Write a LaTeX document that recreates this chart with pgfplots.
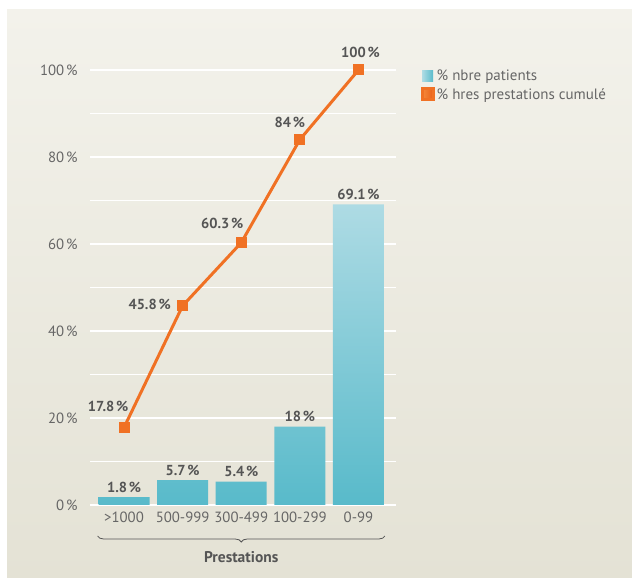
\documentclass[border=0pt]{standalone}
\usepackage{pgfplots}
\pgfplotsset{compat=1.18}
\usepackage{pgfplotstable}
\usepackage{fontspec}
\setmainfont{PT Sans}
\usetikzlibrary{decorations.pathreplacing}
\definecolor{panTop}{HTML}{F3F2EB}
\definecolor{panBot}{HTML}{E4E2D5}
\definecolor{barTop}{HTML}{AEDBE4}
\definecolor{barBot}{HTML}{58BACA}
\definecolor{orangeL}{HTML}{F58A3A}
\definecolor{orangeD}{HTML}{E8601A}
\definecolor{lineOr}{HTML}{F07124}
\definecolor{txt}{HTML}{555555}
\definecolor{ticktxt}{HTML}{666666}
\newcommand{\pc}{\kern0.12em\%}

\pgfplotstableread{
x y
0 1.8
1 5.7
2 5.4
3 18
4 69.1
}\bars
\pgfplotstableread{
x y dx dy
0 17.8 -16 21
1 45.8 -33 1
2 60.3 -19 19
3 84 -10 17
4 100 2 18
}\cumul

\begin{document}
\begin{tikzpicture}
\fill[white] (0pt,0pt) rectangle (632pt,578pt);
\shade[top color=panTop, bottom color=panBot] (7pt,0pt) rectangle (632pt,568pt);
\begin{axis}[
  at={(90pt,73pt)}, anchor=south west,
  scale only axis, width=306pt, height=435pt,
  xmin=-0.58, xmax=4.64, ymin=0, ymax=100,
  axis line style={draw=none},
  clip=false,
  xtick={0,1,2,3,4},
  xticklabels={>1000,500-999,300-499,100-299,0-99},
  ytick={0,20,40,60,80,100},
  minor ytick={10,30,50,70,90},
  yticklabel={\pgfmathprintnumber{\tick}\pc},
  /pgf/number format/assume math mode=true,
  major tick length=0pt, minor tick length=0pt,
  ymajorgrids, yminorgrids,
  major grid style={white, line width=1.6pt},
  minor grid style={white, line width=1.6pt},
  tick label style={font=\fontsize{14.8}{16}\selectfont, text=ticktxt},
  yticklabel style={xshift=-9pt},
  xticklabel style={yshift=-3pt},
  xlabel={\textbf{Prestations}},
  xlabel style={font=\fontsize{15.5}{17}\selectfont, text=txt, at={(axis description cs:0.494,0)}, anchor=center, yshift=-52pt},
  legend style={at={(1.08,1.005)}, anchor=north west, draw=none, fill=none,
    font=\fontsize{15}{17}\selectfont, text=ticktxt, row sep=2pt, inner sep=0pt},
  legend cell align=left,
]
\addplot[ybar, bar width=51pt, draw=none, top color=barTop, bottom color=barBot,
  nodes near coords={\textbf{\pgfmathprintnumber{\pgfplotspointmeta}\pc}},
  nodes near coords style={font=\fontsize{14.5}{16}\selectfont, text=txt, anchor=south, yshift=1pt},
  legend image code/.code={\shade[left color=barTop, right color=barBot] (0pt,-5.5pt) rectangle (11pt,5.5pt);}
  ] table[x=x,y=y] {\bars};
\addlegendentry{\%\ nbre patients}
\addplot[lineOr, line width=3pt, mark=square*, mark size=5pt, mark options={solid, line width=0pt, fill=lineOr},
  visualization depends on={\thisrow{dx}\as\ddx},
  visualization depends on={\thisrow{dy}\as\ddy},
  nodes near coords={\textbf{\pgfmathprintnumber{\pgfplotspointmeta}\pc}},
  nodes near coords style={font=\fontsize{14.5}{16}\selectfont, text=txt, anchor=center, xshift=\ddx pt, yshift=\ddy pt},
  legend image code/.code={\shade[left color=orangeL, right color=orangeD] (0pt,-5.5pt) rectangle (11pt,5.5pt);}
  ] table[x=x,y=y] {\cumul};
\addlegendentry{\%\ hres prestations cumulé}
\draw[txt, line width=0.8pt, decorate, decoration={brace, mirror, amplitude=6pt}]
  ([yshift=-31pt]axis cs:-0.45,0) -- ([yshift=-31pt]axis cs:4.45,0);
\end{axis}
\pgfresetboundingbox
\path[use as bounding box] (0pt,0pt) rectangle (632pt,578pt);
\end{tikzpicture}
\end{document}
